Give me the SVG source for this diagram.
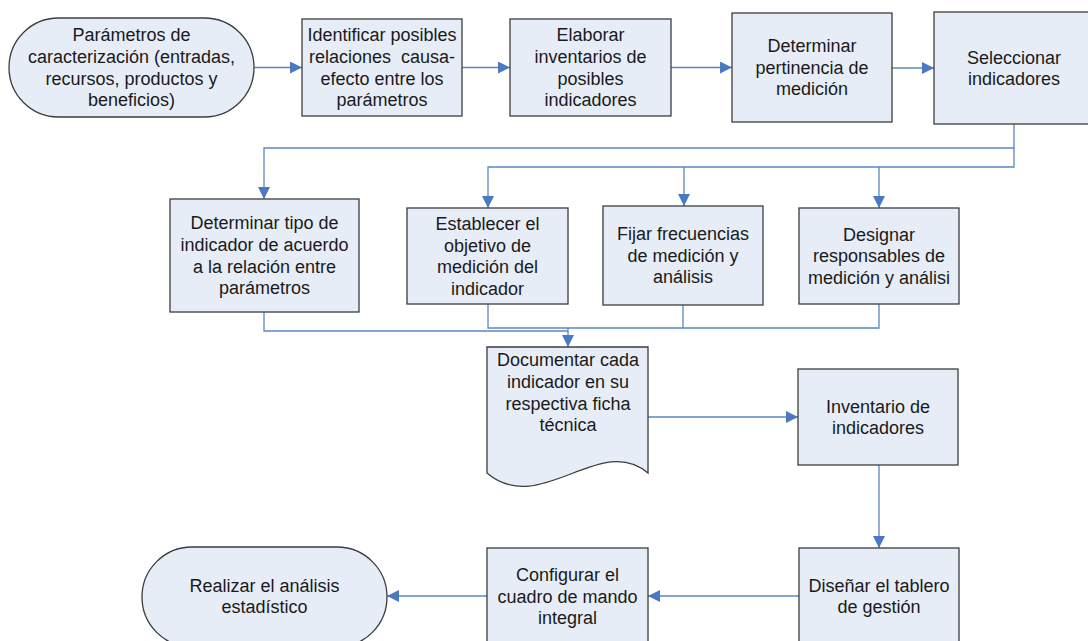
<svg xmlns="http://www.w3.org/2000/svg" width="1088" height="641" viewBox="0 0 1088 641">
<style>
.n{fill:#E7EDF7;stroke:#3C3C3C;stroke-width:1.3}
.t{font-family:"Liberation Sans",Arial,sans-serif;font-size:18px;fill:#1A1A1A;text-anchor:middle}
.c{fill:none;stroke:#5A86C8;stroke-width:1.3}
.a{marker-end:url(#ah)}
</style>
<defs>
<marker id="ah" markerUnits="userSpaceOnUse" markerWidth="13" markerHeight="12" refX="12" refY="6" orient="auto" viewBox="0 0 13 12">
<path d="M0,0 L12,6 L0,12 Z" fill="#4A78C2"/>
</marker>
</defs>
<rect width="1088" height="641" fill="#FFFFFF"/>
<g id="connectors">
<path class="c a" d="M254,67.5 H302"/>
<path class="c a" d="M462,67.5 H510"/>
<path class="c a" d="M671,67.5 H732"/>
<path class="c a" d="M892,68 H934"/>
<path class="c a" d="M1014,124 V148 H264 V199"/>
<path class="c a" d="M1014,148 V167 H488 V208"/>
<path class="c a" d="M684,167 V206"/>
<path class="c a" d="M879,167 V208"/>
<path class="c" d="M264,312 V331 H568"/>
<path class="c" d="M488,304 V328 H879 V304"/>
<path class="c" d="M683,305 V328"/>
<path class="c a" d="M568,328 V347"/>
<path class="c a" d="M648,417 H798"/>
<path class="c a" d="M879,465 V548"/>
<path class="c a" d="M799,596 H648"/>
<path class="c a" d="M487,596 H387"/>
</g>
<g id="n1">
<rect class="n" x="9" y="18" width="245" height="99" rx="49.5"/>
<text class="t"><tspan x="131.5" y="41.4">Parámetros de</tspan><tspan x="131.5" y="63">caracterización (entradas,</tspan><tspan x="131.5" y="84.6">recursos, productos y</tspan><tspan x="131.5" y="106.2">beneficios)</tspan></text>
</g>
<g id="n2">
<rect class="n" x="302" y="19" width="160" height="97"/>
<text class="t"><tspan x="382" y="41.4">Identificar posibles</tspan><tspan x="382" y="63">relaciones&#160; causa-</tspan><tspan x="382" y="84.6">efecto entre los</tspan><tspan x="382" y="106.2">parámetros</tspan></text>
</g>
<g id="n3">
<rect class="n" x="510" y="19" width="161" height="97"/>
<text class="t"><tspan x="590.5" y="41.4">Elaborar</tspan><tspan x="590.5" y="63">inventarios de</tspan><tspan x="590.5" y="84.6">posibles</tspan><tspan x="590.5" y="106.2">indicadores</tspan></text>
</g>
<g id="n4">
<rect class="n" x="732" y="13" width="160" height="109"/>
<text class="t"><tspan x="812" y="52.2">Determinar</tspan><tspan x="812" y="73.8">pertinencia de</tspan><tspan x="812" y="95.4">medición</tspan></text>
</g>
<g id="n5">
<rect class="n" x="934" y="12" width="162" height="112"/>
<text class="t"><tspan x="1014" y="63.5">Seleccionar</tspan><tspan x="1014" y="85.1">indicadores</tspan></text>
</g>
<g id="n6">
<rect class="n" x="170" y="199" width="189" height="113"/>
<text class="t"><tspan x="264.5" y="229.3">Determinar tipo de</tspan><tspan x="264.5" y="250.9">indicador de acuerdo</tspan><tspan x="264.5" y="272.5">a la relación entre</tspan><tspan x="264.5" y="294.1">parámetros</tspan></text>
</g>
<g id="n7">
<rect class="n" x="407" y="208" width="161" height="96"/>
<text class="t"><tspan x="487.5" y="229.9">Establecer el</tspan><tspan x="487.5" y="251.5">objetivo de</tspan><tspan x="487.5" y="273.1">medición del</tspan><tspan x="487.5" y="294.7">indicador</tspan></text>
</g>
<g id="n8">
<rect class="n" x="603" y="206" width="160" height="99"/>
<text class="t"><tspan x="683" y="240.2">Fijar frecuencias</tspan><tspan x="683" y="261.8">de medición y</tspan><tspan x="683" y="283.4">análisis</tspan></text>
</g>
<g id="n9">
<rect class="n" x="799" y="208" width="160" height="96"/>
<text class="t"><tspan x="879" y="240.7">Designar</tspan><tspan x="879" y="262.3">responsables de</tspan><tspan x="879" y="283.9">medición y análisi</tspan></text>
</g>
<g id="n10">
<path class="n" d="M487,347 H648 V473 C600,432 540,518 487,473 Z"/>
<text class="t"><tspan x="568" y="366.4">Documentar cada</tspan><tspan x="568" y="388">indicador en su</tspan><tspan x="568" y="409.6">respectiva ficha</tspan><tspan x="568" y="431.2">técnica</tspan></text>
</g>
<g id="n11">
<rect class="n" x="798" y="369" width="160" height="96"/>
<text class="t"><tspan x="878" y="412.5">Inventario de</tspan><tspan x="878" y="434.1">indicadores</tspan></text>
</g>
<g id="n12">
<rect class="n" x="799" y="548" width="160" height="100"/>
<text class="t"><tspan x="879" y="591.5">Diseñar el tablero</tspan><tspan x="879" y="613.1">de gestión</tspan></text>
</g>
<g id="n13">
<rect class="n" x="487" y="548" width="161" height="100"/>
<text class="t"><tspan x="567.5" y="581.2">Configurar el</tspan><tspan x="567.5" y="602.8">cuadro de mando</tspan><tspan x="567.5" y="624.4">integral</tspan></text>
</g>
<g id="n14">
<rect class="n" x="142" y="547" width="245" height="100" rx="50"/>
<text class="t"><tspan x="264.5" y="591.5">Realizar el análisis</tspan><tspan x="264.5" y="613.1">estadístico</tspan></text>
</g>
</svg>
